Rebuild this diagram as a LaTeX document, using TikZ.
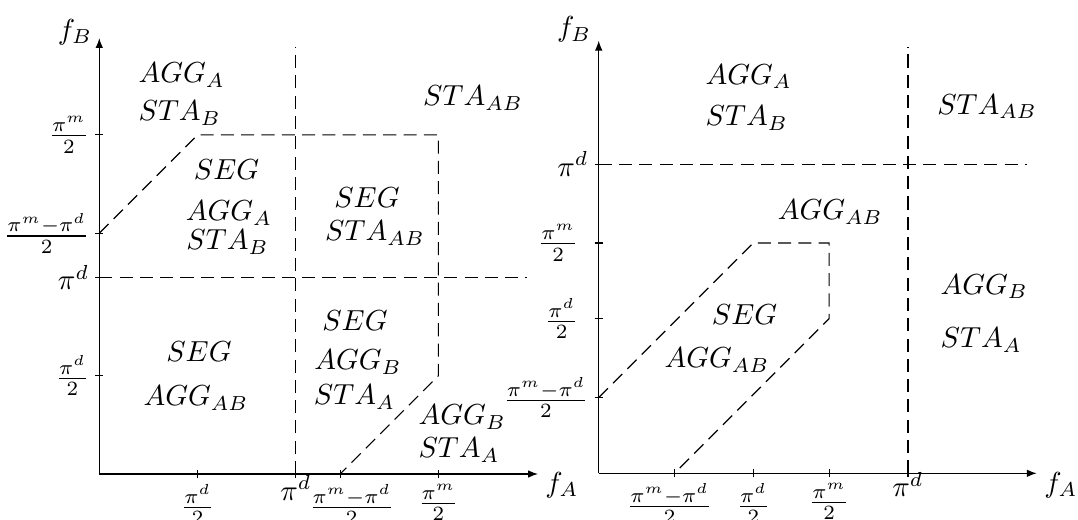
\documentclass[tikz,border=0pt]{standalone}
\usepackage{amsmath}
\usetikzlibrary{arrows.meta}

\begin{document}
\begin{tikzpicture}[x=0.345pt, y=0.345pt,
    axisline/.style={-{Latex[length=3.4pt,width=2.6pt]}},
    regionline/.style={dash pattern=on 4.5pt off 2.5pt},
    region/.style={inner sep=0pt}]
  \useasboundingbox (0,0) rectangle (1078,519);

  % Left diagram
  \begin{scope}[shift={(99.3,45)}, x=33.91pt, y=33.91pt]
    % Axes
    \draw[axisline] (0,0) -- (4.463,0);
    \draw[axisline] (0,0) -- (0,4.435);
    \node (lfa) at (4.707,-0.112) {$f_A$};
    \node (lfb) at (-0.247,4.496) {$f_B$};

    % Borders of the regions
    \draw[regionline] (2,0) -- (2,4.347);
    \draw[regionline] (0,2) -- (4.348,2);
    \draw[regionline] (0,2.45) -- (1,3.45) -- (3.45,3.45) -- (3.45,1) -- (2.45,0);

    % Ticks
    \foreach \t in {1,2,2.45,3.45} {
      \draw ([yshift=-1.38pt]\t,0) -- ([yshift=1.38pt]\t,0);
      \draw ([xshift=-1.38pt]0,\t) -- ([xshift=1.38pt]0,\t);
    }
    \foreach \t/\lbl [count=\i] in {1/{$\frac{\pi^d}{2}$}, 2/{$\pi^d$}, 2.45/{$\frac{\pi^m-\pi^d}{2}$}, 3.45/{$\frac{\pi^m}{2}$}}
      \node[left] (ly\i) at (0,\t) {\lbl};
    \node[below] (lx1) at (1,0) {$\frac{\pi^d}{2}$};
    \node[anchor=base] (lx2) at (2,-0.2645) {$\pi^d$};
    \node[below, xshift=4pt] (lx3) at (2.45,0) {$\frac{\pi^m-\pi^d}{2}$};
    \node[below] (lx4) at (3.45,0) {$\frac{\pi^m}{2}$};

    % Regions
    \node[region, anchor=west] (la1) at (0.394,4.059) {$AGG_A$};
    \node[region, anchor=west] (la2) at (0.394,3.672) {$STA_B$};
    \node[region] (lb) at (3.802,3.825) {$STA_{AB}$};
    \node[region] (lc1) at (1.294,3.093) {$SEG$};
    \node[region] (lc2) at (1.319,2.655) {$AGG_A$};
    \node[region] (lc3) at (1.304,2.36) {$STA_B$};
    \node[region] (ld1) at (2.723,2.808) {$SEG$};
    \node[region] (ld2) at (2.805,2.452) {$STA_{AB}$};
    \node[region] (le1) at (1.014,1.244) {$SEG$};
    \node[region] (le2) at (0.984,0.773) {$AGG_{AB}$};
    \node[region] (lf1) at (2.601,1.556) {$SEG$};
    \node[region] (lf2) at (2.632,1.139) {$AGG_B$};
    \node[region] (lf3) at (2.596,0.783) {$STA_A$};
    \node[region, anchor=west] (lg1) at (3.242,0.580) {$AGG_B$};
    \node[region, anchor=west] (lg2) at (3.242,0.244) {$STA_A$};
  \end{scope}

  % Right diagram
  \begin{scope}[shift={(598.7,45.7)}, x=53.34pt, y=53.34pt]
    % Axes
    \draw[axisline] (0,0) -- (2.833,0);
    \draw[axisline] (0,0) -- (0,2.798);
    \node (rfa) at (2.99,-0.076) {$f_A$};
    \node (rfb) at (-0.159,2.869) {$f_B$};

    % Borders of the regions
    \draw[regionline] (2,0) -- (2,2.759);
    \draw[regionline] (0,2) -- (2.768,2);
    \draw[regionline] (0,0.49) -- (1,1.49) -- (1.49,1.49) -- (1.49,1) -- (0.49,0);

    % Ticks
    \foreach \t in {0.49,1,1.49,2} {
      \draw ([yshift=-1.38pt]\t,0) -- ([yshift=1.38pt]\t,0);
      \draw ([xshift=-1.38pt]0,\t) -- ([xshift=1.38pt]0,\t);
    }
    \node[left] (ry1) at (0,0.49) {$\frac{\pi^m-\pi^d}{2}$};
    \node[left, xshift=-3.5pt] (ry2) at (0,1) {$\frac{\pi^d}{2}$};
    \node[left, xshift=-3.5pt] (ry3) at (0,1.49) {$\frac{\pi^m}{2}$};
    \node[left] (ry4) at (0,2) {$\pi^d$};
    \node[below, xshift=-1.7pt] (rx1) at (0.49,0) {$\frac{\pi^m-\pi^d}{2}$};
    \node[below] (rx2) at (1,0) {$\frac{\pi^d}{2}$};
    \node[below] (rx3) at (1.49,0) {$\frac{\pi^m}{2}$};
    \node[anchor=base] (rx4) at (2,-0.153) {$\pi^d$};

    % Regions
    \node[region, anchor=west] (ra1) at (0.688,2.564) {$AGG_A$};
    \node[region, anchor=west] (ra2) at (0.688,2.298) {$STA_B$};
    \node[region] (rb) at (2.512,2.37) {$STA_{AB}$};
    \node[region] (rc) at (1.497,1.69) {$AGG_{AB}$};
    \node[region] (rd1) at (0.943,1.024) {$SEG$};
    \node[region] (rd2) at (0.765,0.733) {$AGG_{AB}$};
    \node[region, anchor=west] (re1) at (2.208,1.207) {$AGG_B$};
    \node[region, anchor=west] (re2) at (2.208,0.862) {$STA_A$};
  \end{scope}
\end{tikzpicture}
\end{document}
